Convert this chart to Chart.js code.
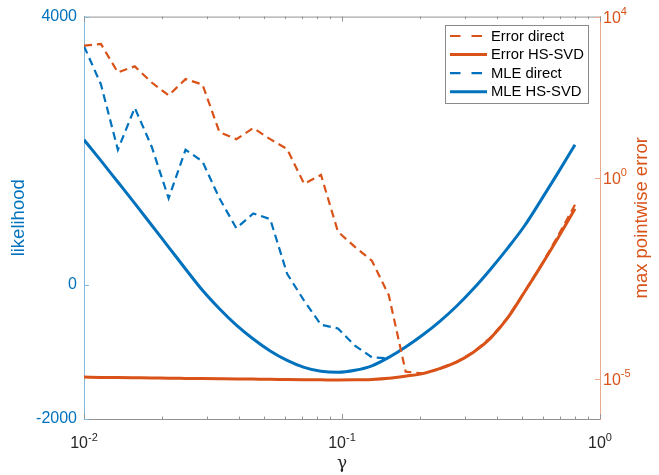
<!DOCTYPE html>
<html>
<head>
<meta charset="utf-8">
<script src="https://cdn.jsdelivr.net/npm/chart.js@4.4.1/dist/chart.umd.min.js"></script>
<style>
  html, body { margin: 0; padding: 0; background: #fff; }
</style>
</head>
<body>
<canvas id="myChart" width="659" height="475"></canvas>
<script>
// gamma values (x, log scale)
const gamma = [0.0100, 0.01163, 0.01353, 0.01573, 0.01830, 0.02128, 0.02475, 0.02879, 0.03349, 0.03895,
  0.04530, 0.05269, 0.06129, 0.07129, 0.08292, 0.09646, 0.1122, 0.1305, 0.1518, 0.1765,
  0.2054, 0.2388, 0.2778, 0.3231, 0.3758, 0.4372, 0.5085, 0.5915, 0.6880, 0.8000];

// right axis: max pointwise error
const errDirect = [1910, 2090, 410, 580, 230, 110, 280, 205, 13.5, 9.0,
  17, 9.0, 5.1, 0.70, 1.16, 0.045, 0.019, 0.0086, 0.0012, 1.5e-5,
  1.36e-5, 1.8e-5, 2.62e-5, 4.6e-5, 1.04e-4, 3.2e-4, 1.42e-3, 6.6e-3, 0.036, 0.21];
const errHSSVD = [1.10e-5, 1.08e-5, 1.07e-5, 1.06e-5, 1.05e-5, 1.03e-5, 1.02e-5, 1.01e-5, 1.00e-5, 0.99e-5,
  0.98e-5, 0.97e-5, 0.955e-5, 0.945e-5, 0.94e-5, 0.935e-5, 0.94e-5, 0.965e-5, 1.03e-5, 1.16e-5,
  1.34e-5, 1.78e-5, 2.58e-5, 4.55e-5, 1.01e-4, 3.16e-4, 1.39e-3, 6.49e-3, 0.032, 0.167];

// left axis: likelihood
const mleDirect = [3560, 2990, 2015, 2640, 2060, 1290, 2015, 1840, 1290, 845,
  1065, 980, 165, -235, -595, -650, -905, -1080, -1095];
const mleHSSVD = [2163, 1852, 1533, 1215, 889, 563, 237, -81, -356, -600,
  -807, -985, -1126, -1230, -1289, -1304, -1274, -1207, -1081, -926,
  -748, -548, -319, -59, 230, 541, 874, 1267, 1674, 2089];

const likelihoodTicks = [-2000, 0, 4000];
const errorTickExp = [4, 0, -5];
const gammaTickExp = [-2, -1, 0];

const BLUE = "#0072BD";
const ORANGE = "#D95319";
const FONT = "'Liberation Sans', Arial, Helvetica, sans-serif";

function pts(ys) {
  return ys.map((y, i) => ({ x: gamma[i], y: y }));
}

// draws 10^exp with a raised exponent
function drawPow(ctx, exp, x, baseline, align, color) {
  ctx.save();
  ctx.fillStyle = color;
  ctx.textBaseline = "alphabetic";
  ctx.textAlign = "left";
  ctx.font = "16px " + FONT;
  const wb = ctx.measureText("10").width;
  ctx.font = "11px " + FONT;
  const we = ctx.measureText(String(exp)).width;
  let x0 = align === "center" ? x - (wb + we) / 2 : x;
  ctx.font = "16px " + FONT;
  ctx.fillText("10", x0, baseline);
  ctx.font = "11px " + FONT;
  ctx.fillText(String(exp), x0 + wb, baseline - 7.5);
  ctx.restore();
}

function line(ctx, x1, y1, x2, y2, color) {
  ctx.beginPath();
  ctx.strokeStyle = color;
  ctx.lineWidth = 1;
  ctx.moveTo(x1, y1);
  ctx.lineTo(x2, y2);
  ctx.stroke();
}

const matlabLook = {
  id: "matlabLook",
  afterDraw(chart) {
    const ctx = chart.ctx;
    const a = chart.chartArea;
    const xs = chart.scales.x, yl = chart.scales.yL, yr = chart.scales.yR;
    ctx.save();

    // top border of the box
    line(ctx, a.left, a.top + 0.5, a.right, a.top + 0.5, "#939393");

    // x ticks, major and minor, pointing inward top and bottom
    for (let d = -2; d <= 0; d++) {
      for (let k = 1; k <= 9; k++) {
        const v = k * Math.pow(10, d);
        if (v > 1.0001) break;
        const px = Math.round(xs.getPixelForValue(v)) + 0.5;
        const len = k === 1 ? 5 : 2.5;
        line(ctx, px, a.bottom, px, a.bottom - len, "#939393");
        line(ctx, px, a.top, px, a.top + len, "#939393");
      }
    }
    gammaTickExp.forEach(e => {
      drawPow(ctx, e, xs.getPixelForValue(Math.pow(10, e)), 448, "center", "#262626");
    });

    // left ticks
    likelihoodTicks.forEach(v => {
      const py = Math.round(yl.getPixelForValue(v)) + 0.5;
      line(ctx, a.left, py, a.left + 5, py, "#80b9de");
    });

    // right ticks and labels
    errorTickExp.forEach(e => {
      const py = yr.getPixelForValue(Math.pow(10, e));
      line(ctx, a.right, Math.round(py) + 0.5, a.right - 5, Math.round(py) + 0.5, "#eca98c");
      drawPow(ctx, e, a.right + 3, py + 6, "left", ORANGE);
    });

    // axis titles
    ctx.font = "18.5px " + FONT;
    ctx.textAlign = "center";
    ctx.textBaseline = "middle";
    ctx.fillStyle = BLUE;
    ctx.save();
    ctx.translate(19, (a.top + a.bottom) / 2);
    ctx.rotate(-Math.PI / 2);
    ctx.fillText("likelihood", 0, 0);
    ctx.restore();
    ctx.fillStyle = ORANGE;
    ctx.save();
    ctx.translate(642, (a.top + a.bottom) / 2);
    ctx.rotate(-Math.PI / 2);
    ctx.fillText("max pointwise error", 0, 0);
    ctx.restore();
    ctx.fillStyle = "#262626";
    ctx.textBaseline = "alphabetic";
    ctx.font = "17px 'DejaVu Serif', serif";
    ctx.fillText("\u03B3", xs.getPixelForValue(0.1), 468);

    // legend box
    const bx = 445.5, by = 25.5, bw = 143, bh = 78;
    ctx.fillStyle = "#fff";
    ctx.fillRect(bx, by, bw, bh);
    ctx.strokeStyle = "#8a8a8a";
    ctx.lineWidth = 1;
    ctx.strokeRect(bx, by, bw, bh);
    chart.data.datasets.forEach((ds, i) => {
      const ry = 36 + i * 18.6;
      ctx.beginPath();
      ctx.strokeStyle = ds.borderColor;
      ctx.lineWidth = ds.borderWidth;
      ctx.setLineDash(ds.borderDash.length ? [10.5, 11] : []);
      ctx.moveTo(450, ry);
      ctx.lineTo(487, ry);
      ctx.stroke();
      ctx.setLineDash([]);
      ctx.fillStyle = "#000";
      ctx.font = "14.8px " + FONT;
      ctx.textAlign = "left";
      ctx.textBaseline = "middle";
      ctx.fillText(ds.label, 491, ry + 0.5);
    });

    ctx.restore();
  }
};

Chart.defaults.font.family = FONT;

const myChart = new Chart(document.getElementById("myChart"), {
  type: "line",
  data: {
    datasets: [
      { label: "Error direct", data: pts(errDirect), yAxisID: "yR", borderColor: ORANGE,
        borderWidth: 2.2, borderDash: [8, 5], pointRadius: 0, tension: 0, order: 0 },
      { label: "Error HS-SVD", data: pts(errHSSVD), yAxisID: "yR", borderColor: ORANGE,
        borderWidth: 3, borderDash: [], pointRadius: 0, cubicInterpolationMode: "monotone", order: 2 },
      { label: "MLE direct", data: pts(mleDirect), yAxisID: "yL", borderColor: BLUE,
        borderWidth: 2.2, borderDash: [8, 5], pointRadius: 0, tension: 0, order: 1 },
      { label: "MLE HS-SVD", data: pts(mleHSSVD), yAxisID: "yL", borderColor: BLUE,
        borderWidth: 3, borderDash: [], pointRadius: 0, cubicInterpolationMode: "monotone", order: 3 }
    ]
  },
  options: {
    responsive: false,
    devicePixelRatio: 1,
    animation: false,
    layout: { padding: { top: 14, left: 0, right: 0, bottom: 0 } },
    plugins: { legend: { display: false }, tooltip: { enabled: false } },
    scales: {
      x: {
        type: "logarithmic", position: "bottom", min: 0.01, max: 1,
        ticks: { display: false },
        grid: { display: false, drawTicks: false },
        border: { color: "#939393", width: 1 },
        afterFit: s => { s.height = 56; }
      },
      yL: {
        type: "linear", position: "left", min: -2000, max: 4000,
        afterBuildTicks: s => { s.ticks = likelihoodTicks.map(v => ({ value: v })); },
        ticks: { color: BLUE, font: { size: 16 }, padding: 7, callback: v => String(v) },
        grid: { display: false, drawTicks: false },
        border: { color: "#80b9de", width: 1 },
        afterFit: s => { s.width = 84; }
      },
      yR: {
        type: "logarithmic", position: "right", min: 1e-6, max: 1e4,
        ticks: { display: false },
        grid: { display: false, drawTicks: false },
        border: { color: "#eca98c", width: 1 },
        afterFit: s => { s.width = 59; }
      }
    }
  },
  plugins: [matlabLook]
});
</script>
</body>
</html>
